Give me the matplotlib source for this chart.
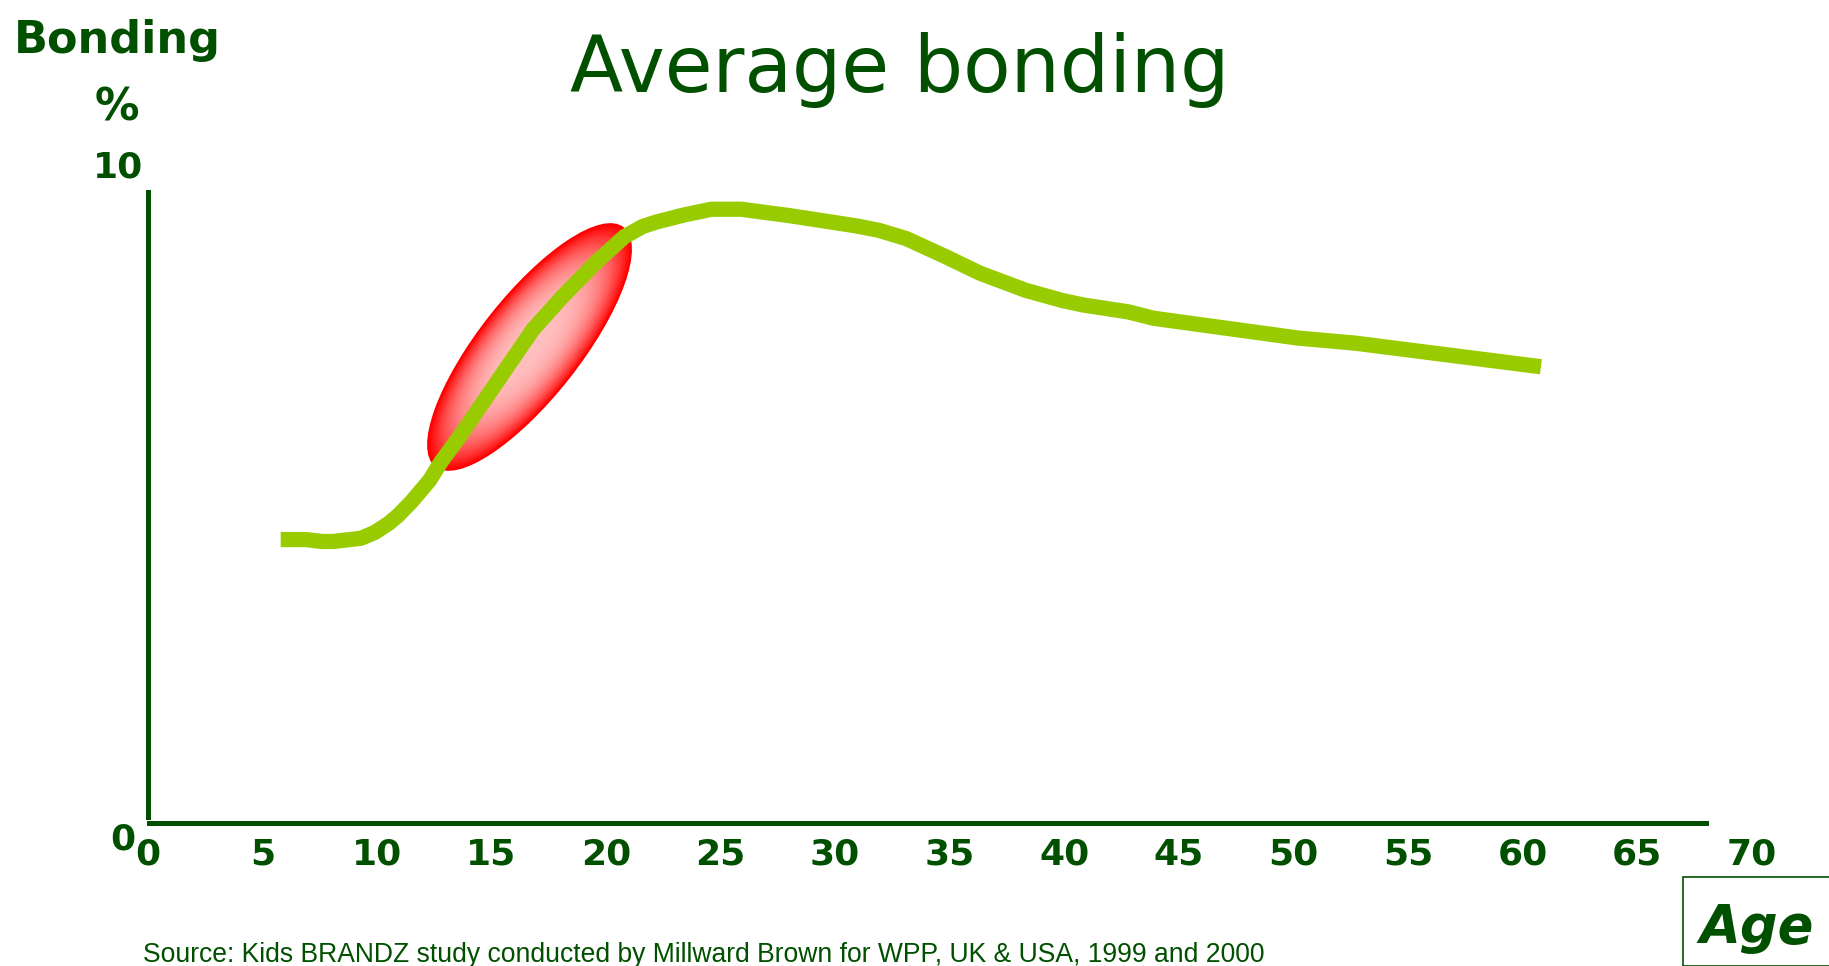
import numpy as np
import matplotlib
matplotlib.use('Agg')
import matplotlib.pyplot as plt
from matplotlib.patches import Ellipse, Rectangle
import matplotlib.transforms as mtransforms

# data
edad = [5.8, 6.9, 7.6, 8.1, 9.3, 9.9, 10.5, 10.9, 11.5, 12.3, 12.8, 13.6, 14.8, 16.0,
        16.8, 18.1, 19.6, 20.4, 20.8, 21.6, 22.2, 23.4, 24.6, 25.9, 28.0, 30.9, 31.9,
        33.1, 34.8, 36.3, 38.3, 39.9, 40.8, 42.8, 43.9, 50.2, 52.7, 60.8]
vinculo = [4.44, 4.44, 4.41, 4.41, 4.46, 4.55, 4.69, 4.81, 5.03, 5.37, 5.66, 6.05, 6.68, 7.31,
           7.73, 8.25, 8.80, 9.06, 9.19, 9.35, 9.42, 9.53, 9.62, 9.62, 9.52, 9.36, 9.29,
           9.16, 8.88, 8.62, 8.35, 8.19, 8.12, 8.01, 7.91, 7.60, 7.52, 7.15]
ticks_x = list(range(0, 75, 5))
zona_centro = (16.66, 7.46)

verde = '#005000'
verde_linea = '#99CC00'

fig = plt.figure(figsize=(18.29, 9.66), dpi=100)
ax = fig.add_axes([147.8 / 1829, (966 - 822.7) / 966, (1751.7 - 147.8) / 1829, (822.7 - 185) / 966])
ax.set_xlim(0, 70)
ax.set_ylim(0, 10)

for lado in ['top', 'right']:
    ax.spines[lado].set_visible(False)
ax.spines['bottom'].set_bounds(0.05, 68)
ax.spines['left'].set_bounds(0.09, 9.89)
for lado in ['bottom', 'left']:
    ax.spines[lado].set_color(verde)
    ax.spines[lado].set_linewidth(3.6)

ax.set_xticks(ticks_x)
ax.set_xticklabels([str(t) for t in ticks_x], fontsize=26, fontweight='bold', color=verde)
ax.tick_params(axis='x', length=0, pad=11)
ax.set_yticks([])

# resaltado rojo con degradado
trans = fig.dpi_scale_trans + mtransforms.ScaledTranslation(zona_centro[0], zona_centro[1], ax.transData)
rojo = np.array([1.0, 0.0, 0.0])
rosa = np.array([1.0, 0.75, 0.75])
for s in np.linspace(1, 0.02, 70):
    w = s ** 3.0
    c = rojo * w + rosa * (1 - w)
    e = Ellipse((0, 0), 3.03 * s, 1.0 * s, angle=51.8, transform=trans,
                facecolor=c, edgecolor='none', zorder=2)
    ax.add_patch(e)
ax.add_patch(Ellipse((0, 0), 3.03, 1.0, angle=51.8, transform=trans,
                     facecolor='none', edgecolor='#FF0000', linewidth=1.2, zorder=2))

ax.plot(edad, vinculo, color=verde_linea, linewidth=11, solid_joinstyle='round',
        solid_capstyle='butt', zorder=3)

ax.text(-1.3, 10.28, '10', fontsize=26, fontweight='bold', color=verde, ha='center', va='center')
ax.text(-1.1, -0.26, '0', fontsize=26, fontweight='bold', color=verde, ha='center', va='center')

fig.text(117 / 1829, 1 - 40 / 966, 'Bonding', fontsize=32, fontweight='bold', color=verde,
         ha='center', va='center')
fig.text(117 / 1829, 1 - 108 / 966, '%', fontsize=32, fontweight='bold', color=verde,
         ha='center', va='center')
fig.text(900 / 1829, 1 - 70 / 966, 'Average bonding', fontsize=56, color=verde,
         ha='center', va='center')

fig.add_artist(Rectangle((1683 / 1829, 0), 0.2, (966 - 877) / 966, transform=fig.transFigure,
                         facecolor='none', edgecolor=verde, linewidth=1.2))
fig.text(1757 / 1829, 1 - 928 / 966, 'Age', fontsize=38, fontweight='bold', style='italic',
         color=verde, ha='center', va='center')

fig.text(143 / 1829, 1 - 962 / 966,
         'Source: Kids BRANDZ study conducted by Millward Brown for WPP, UK & USA, 1999 and 2000',
         fontsize=19.1, family='Liberation Sans', color=verde, ha='left', va='baseline')

plt.savefig('out.png', dpi=100)
plt.close()
